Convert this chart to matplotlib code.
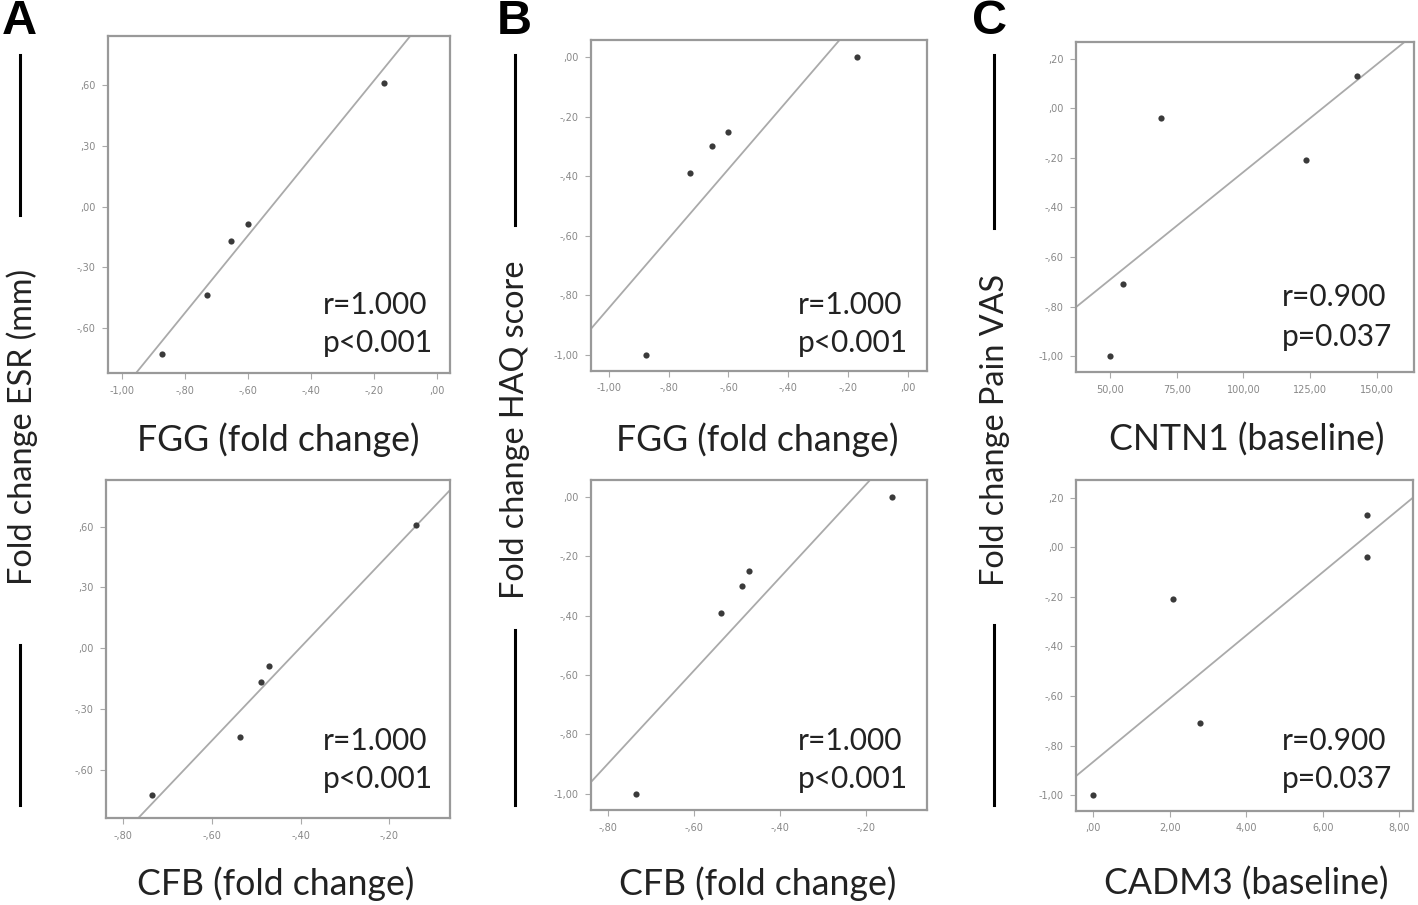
import matplotlib
matplotlib.use('Agg')
import matplotlib.pyplot as plt
from matplotlib.lines import Line2D
from matplotlib.ticker import FuncFormatter
import numpy as np

# data
fgg_fc = [-0.875, -0.73, -0.655, -0.60, -0.17]
cfb_fc = [-0.735, -0.537, -0.489, -0.471, -0.14]
esr_fc = [-0.725, -0.437, -0.168, -0.088, 0.608]
haq_fc = [-1.0, -0.39, -0.30, -0.25, 0.0]
cntn1_base = [49.9, 54.9, 69.2, 123.4, 142.5]
cadm3_base = [0.0, 2.80, 7.15, 2.08, 7.17]
pain_fc = [-1.0, -0.71, -0.04, -0.21, 0.13]

# fit lines (intercept, slope) as drawn in the figure
fit_lines = {
    'A1': (1.004, 1.908),
    'A2': (0.925, 2.30),
    'B1': (0.326, 1.170),
    'B2': (0.354, 1.566),
    'C1': (-1.124, 0.00867),
    'C2': (-0.865, 0.1274),
}
r_texts = {'A': ('r=1.000', 'p<0.001'), 'B': ('r=1.000', 'p<0.001'),
           'C': ('r=0.900', 'p=0.037')}

W, H = 1418, 905
fig = plt.figure(figsize=(W / 100, H / 100), dpi=100)
FONT = 'Lato'


def fx(x):
    return x / W


def fy(y):
    return 1 - y / H


def spss(v, pos=None):
    s = f"{abs(v):.2f}".replace('.', ',')
    if s.startswith('0'):
        s = s[1:]
    if v < -1e-9:
        s = '-' + s
    return s


def make_ax(box, xs, ys, line, xlim, ylim, xticks, yticks, rtxt, rpos):
    l, r, t, b = box
    ax = fig.add_axes([fx(l), fy(b), fx(r - l), (b - t) / H])
    ax.scatter(xs, ys, s=20, color='#3a3a3a', zorder=3, linewidths=0)
    a, k = line
    ax.axline((0, a), slope=k, color='#aaaaaa', lw=1.3, zorder=2)
    ax.set_xlim(xlim)
    ax.set_ylim(ylim)
    ax.set_xticks(xticks)
    ax.set_yticks(yticks)
    ax.xaxis.set_major_formatter(FuncFormatter(spss))
    ax.yaxis.set_major_formatter(FuncFormatter(spss))
    ax.tick_params(length=4, width=0.8, color='#aaaaaa', labelcolor='#888888',
                   labelsize=7, pad=5)
    for sp in ax.spines.values():
        sp.set_color('#999999')
        sp.set_linewidth(1.6)
    rx, ry1, ry2 = rpos
    fig.text(fx(rx), fy(ry1), rtxt[0], ha='left', va='center', fontsize=21.5,
             family=FONT, color='#222222')
    fig.text(fx(rx), fy(ry2), rtxt[1], ha='left', va='center', fontsize=21.5,
             family=FONT, color='#222222')
    return ax


# column A
make_ax((108, 450, 36, 373), fgg_fc, esr_fc, fit_lines['A1'], (-1.045, 0.04), (-0.82, 0.84),
        np.arange(-1.0, 0.01, 0.2), [-0.6, -0.3, 0.0, 0.3, 0.6], r_texts['A'], (323, 305, 343))
make_ax((106, 450, 480, 818), cfb_fc, esr_fc, fit_lines['A2'], (-0.839, -0.063), (-0.837, 0.83),
        [-0.8, -0.6, -0.4, -0.2], [-0.6, -0.3, 0.0, 0.3, 0.6], r_texts['A'], (323, 741, 779))
# column B
make_ax((591, 927, 40, 371), fgg_fc, haq_fc, fit_lines['B1'], (-1.059, 0.063), (-1.055, 0.058),
        np.arange(-1.0, 0.01, 0.2), np.arange(-1.0, 0.01, 0.2), r_texts['B'], (798, 305, 343))
make_ax((591, 927, 480, 810), cfb_fc, haq_fc, fit_lines['B2'], (-0.839, -0.058), (-1.054, 0.056),
        [-0.8, -0.6, -0.4, -0.2], np.arange(-1.0, 0.01, 0.2), r_texts['B'], (798, 741, 779))
# column C
make_ax((1076, 1414, 42, 372), cntn1_base, pain_fc, fit_lines['C1'], (37.2, 164), (-1.063, 0.267),
        [50, 75, 100, 125, 150], np.arange(-1.0, 0.21, 0.2), r_texts['C'], (1282, 297, 337))
make_ax((1076, 1413, 480, 811), cadm3_base, pain_fc, fit_lines['C2'], (-0.45, 8.36), (-1.063, 0.271),
        [0, 2, 4, 6, 8], np.arange(-1.0, 0.21, 0.2), r_texts['C'], (1282, 741, 779))

# x labels
xlabels = [('FGG (fold change)', 278, 440), ('FGG (fold change)', 757, 440),
           ('CNTN1 (baseline)', 1247, 440), ('CFB (fold change)', 276, 884),
           ('CFB (fold change)', 758, 884), ('CADM3 (baseline)', 1246, 884)]
for txt, x, y in xlabels:
    fig.text(fx(x), fy(y), txt, ha='center', va='center', fontsize=25.7, family=FONT,
             color='#222222')

# y labels with bars
ylabels = [('Fold change ESR (mm)', 22, 427, 20, (55, 215), (645, 805)),
           ('Fold change HAQ score', 515, 430, 515, (55, 225), (630, 805)),
           ('Fold change Pain VAS', 995, 430, 994, (55, 228), (625, 805))]
for txt, x, y, bx, up, lo in ylabels:
    fig.text(fx(x), fy(y), txt, ha='center', va='center', rotation=90, fontsize=23.3,
             family=FONT, color='#222222')
    for seg in (up, lo):
        fig.add_artist(Line2D([fx(bx), fx(bx)], [fy(seg[0]), fy(seg[1])], color='black',
                              lw=2.2))

# panel letters
for lab, x in (('A', 19), ('B', 514), ('C', 990)):
    fig.text(fx(x), fy(22), lab, ha='center', va='center', fontsize=35, fontweight='bold',
             family='Liberation Sans')

fig.savefig('out.png', dpi=100, facecolor='white')
